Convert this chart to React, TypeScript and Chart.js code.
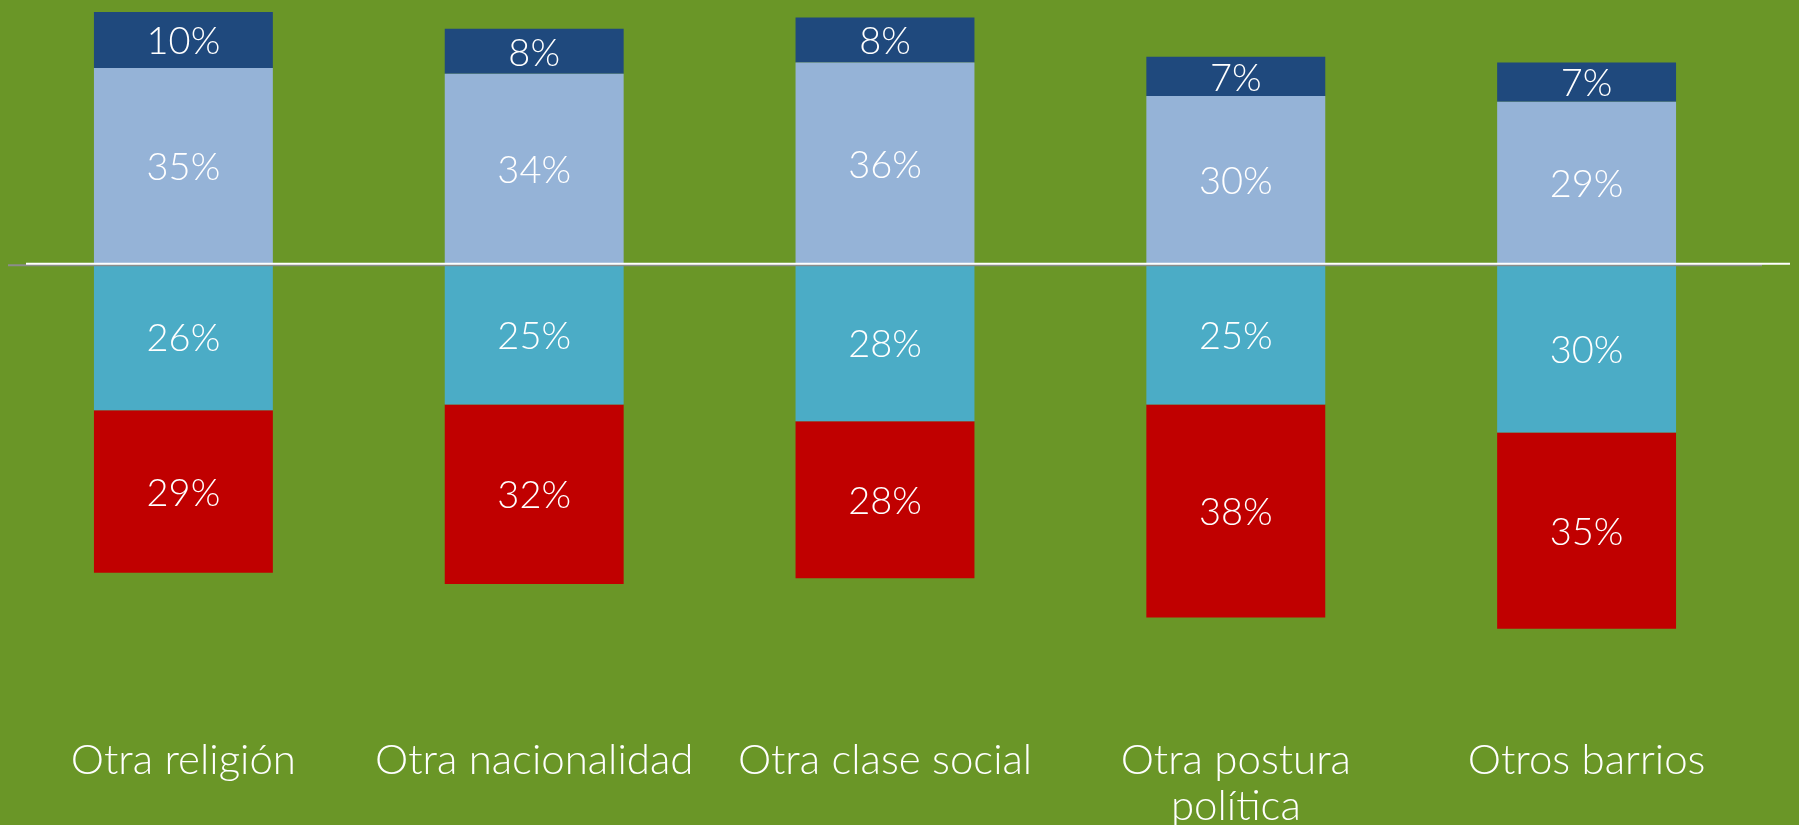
import React, { useEffect, useRef } from "react";
import { Chart, registerables } from "chart.js";

Chart.register(...registerables);

const categories: (string | string[])[] = [
  "Otra religión",
  "Otra nacionalidad",
  "Otra clase social",
  ["Otra postura", "política"],
  "Otros barrios",
];
const darkBlueValues = [10, 8, 8, 7, 7];
const lightBlueValues = [35, 34, 36, 30, 29];
const tealValues = [26, 25, 28, 25, 30];
const redValues = [29, 32, 28, 38, 35];

const BG = "#6A9627";
const FONT = "Lato, 'Open Sans', sans-serif";

export default function App() {
  const ref = useRef<HTMLCanvasElement | null>(null);

  useEffect(() => {
    document.body.style.margin = "0";
    document.body.style.overflow = "hidden";
    const canvas = ref.current!;
    const bgPlugin = {
      id: "bg",
      beforeDraw(chart: any) {
        const ctx = chart.ctx;
        ctx.save();
        ctx.fillStyle = BG;
        ctx.fillRect(0, 0, chart.width, chart.height);
        ctx.restore();
      },
    };
    const overlayPlugin = {
      id: "overlay",
      afterDatasetsDraw(chart: any) {
        const ctx = chart.ctx;
        const y0 = chart.scales.y.getPixelForValue(0);
        ctx.save();
        ctx.strokeStyle = "#8C8C8C";
        ctx.lineWidth = 2;
        ctx.beginPath();
        ctx.moveTo(chart.chartArea.left, y0 + 1);
        ctx.lineTo(chart.chartArea.right, y0 + 1);
        ctx.stroke();
        ctx.strokeStyle = "#FFFFFF";
        ctx.lineWidth = 2;
        ctx.beginPath();
        ctx.moveTo(chart.chartArea.left + 18, y0 - 0.5);
        ctx.lineTo(chart.width - 9, y0 - 0.5);
        ctx.stroke();
        ctx.fillStyle = "#FFFFFF";
        ctx.font = `300 38px ${FONT}`;
        ctx.textAlign = "center";
        ctx.textBaseline = "middle";
        chart.data.datasets.forEach((ds: any, i: number) => {
          const meta = chart.getDatasetMeta(i);
          meta.data.forEach((el: any, j: number) => {
            const { x, y, base } = el.getProps(["x", "y", "base"], true);
            const v = Math.abs(ds.data[j]);
            ctx.fillText(`${v}%`, x, (y + base) / 2 + 2);
          });
        });
        ctx.restore();
      },
    };
    const chart = new Chart(canvas, {
      type: "bar",
      data: {
        labels: categories as any,
        datasets: [
          { label: "Light", data: lightBlueValues, backgroundColor: "#95B3D7" },
          { label: "Dark", data: darkBlueValues, backgroundColor: "#1F497D" },
          { label: "Teal", data: tealValues.map((v) => -v), backgroundColor: "#4BACC6" },
          { label: "Red", data: redValues.map((v) => -v), backgroundColor: "#C00000" },
        ],
      },
      options: {
        responsive: false,
        maintainAspectRatio: false,
        animation: false,
        devicePixelRatio: 1,
        layout: { padding: { left: 8, right: 37, top: 0, bottom: 7 } },
        datasets: { bar: { categoryPercentage: 0.51, barPercentage: 1 } },
        plugins: { legend: { display: false }, tooltip: { enabled: false } },
        scales: {
          x: {
            stacked: true,
            grid: { display: false },
            border: { display: false },
            ticks: {
              color: "#FFFFFF",
              font: { family: FONT, size: 42, weight: "300" as any, lineHeight: 46 / 42 },
              padding: 4,
              maxRotation: 0,
              autoSkip: false,
            },
          },
          y: {
            stacked: true,
            display: false,
            min: -82.15,
            max: 47.14,
          },
        },
      },
      plugins: [bgPlugin, overlayPlugin],
    });
    return () => chart.destroy();
  }, []);

  return (
    <div style={{ width: 1799, height: 825, overflow: "hidden", background: BG }}>
      <canvas ref={ref} width={1799} height={840} style={{ width: 1799, height: 840, display: "block" }} />
    </div>
  );
}
